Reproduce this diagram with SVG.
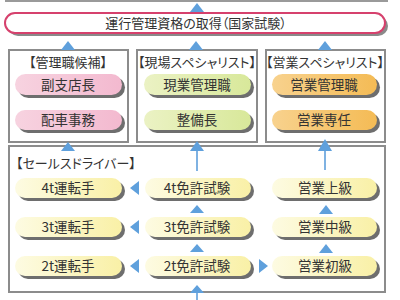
<svg xmlns="http://www.w3.org/2000/svg" width="400" height="300" viewBox="0 0 400 300">
<defs>
<linearGradient id="gy" x1="0" x2="1" y1="0" y2="0"><stop offset="0" stop-color="#fdfbe2"/><stop offset="1" stop-color="#f9f0a6"/></linearGradient>
<linearGradient id="gp" x1="0" x2="1" y1="0" y2="0"><stop offset="0" stop-color="#f7d3e0"/><stop offset="1" stop-color="#f3b9cf"/></linearGradient>
<linearGradient id="gg" x1="0" x2="1" y1="0" y2="0"><stop offset="0" stop-color="#ebf2c4"/><stop offset="1" stop-color="#d8e89a"/></linearGradient>
<linearGradient id="go" x1="0" x2="1" y1="0" y2="0"><stop offset="0" stop-color="#f8d28e"/><stop offset="1" stop-color="#f4bb55"/></linearGradient>
</defs>
<style>
text{font-family:"Noto Sans CJK JP","Noto Sans",sans-serif;fill:#333;text-anchor:middle;font-feature-settings:"palt"}
.t{font-size:13.5px}
.h{font-size:13px}
.box{fill:#fff;stroke:#8c8c8c;stroke-width:2}
.sh{fill:#6e6e6e}
.arr{fill:#5fa0dc}
.ln{stroke:#7fb2e2;stroke-width:2}
</style>
<rect width="400" height="300" fill="#fff"/>
<line x1="5" y1="1" x2="388" y2="1" stroke="#9a9a9a" stroke-width="2"/>

<g id="box-kanri">
<rect class="box" x="9" y="50" width="119" height="92"/>
<text class="h" x="68" y="67">【管理職候補】</text>
</g>
<g id="box-genba">
<rect class="box" x="137" y="50" width="120" height="92"/>
<text class="h" x="197" y="67">【現場スペシャリスト】</text>
</g>
<g id="box-eigyo">
<rect class="box" x="266" y="50" width="119" height="92"/>
<text class="h" x="325" y="67">【営業スペシャリスト】</text>
</g>
<g id="box-sd">
<rect class="box" x="9" y="146" width="376" height="146"/>
<text class="h" x="16" y="168" style="text-anchor:start">【セールスドライバー】</text>
</g>

<g id="connectors">
<polygon class="arr" points="197,3 190,12 204,12"/>
<polygon class="arr" points="68,41 61,50 75,50"/>
<polygon class="arr" points="196,41 189,50 203,50"/>
<polygon class="arr" points="325,41 318,50 332,50"/>
<polygon class="arr" points="68,142 61,151 75,151"/>
<line class="ln" x1="197" y1="150" x2="197" y2="171"/>
<polygon class="arr" points="197,141 190,151 204,151"/>
<line class="ln" x1="325" y1="150" x2="325" y2="170"/>
<polygon class="arr" points="325,139 318,151 332,151"/>
<polygon class="arr" points="130,188 139,181 139,195"/>
<polygon class="arr" points="130,227 139,220 139,234"/>
<polygon class="arr" points="130,266 139,259 139,273"/>
<polygon class="arr" points="268,266 259,259 259,273"/>
<polygon class="arr" points="197,205 190,213 204,213"/>
<polygon class="arr" points="197,244 190,252 204,252"/>
<polygon class="arr" points="326,205 319,214 333,214"/>
<polygon class="arr" points="326,244 319,253 333,253"/>
<line class="ln" x1="197" y1="292" x2="197" y2="300"/>
<polygon class="arr" points="197,285 190,293 204,293"/>
</g>

<g id="title">
<rect x="8" y="16" width="380" height="20" rx="10" fill="#8a8a8a"/>
<rect x="5" y="13" width="380" height="20" rx="10" fill="#fff" stroke="#d6416d" stroke-width="2"/>
<text class="h" x="196" y="27.5">運行管理資格の取得（国家試験）</text>
</g>

<g id="fukushitencho"><rect class="sh" x="18" y="77" width="107" height="21" rx="10.5"/><rect x="15" y="74" width="107" height="21" rx="10.5" fill="url(#gp)"/><text class="t" x="68" y="89.5">副支店長</text></g>
<g id="haisha"><rect class="sh" x="18" y="113" width="107" height="20" rx="10"/><rect x="15" y="110" width="107" height="20" rx="10" fill="url(#gp)"/><text class="t" x="68" y="125">配車事務</text></g>

<g id="genba-kanri"><rect class="sh" x="147" y="77" width="107" height="21" rx="10.5"/><rect x="144" y="74" width="107" height="21" rx="10.5" fill="url(#gg)"/><text class="t" x="197" y="89.5">現業管理職</text></g>
<g id="seibi"><rect class="sh" x="147" y="113" width="107" height="20" rx="10"/><rect x="144" y="110" width="107" height="20" rx="10" fill="url(#gg)"/><text class="t" x="197" y="125">整備長</text></g>

<g id="eigyo-kanri"><rect class="sh" x="275" y="77" width="105" height="21" rx="10.5"/><rect x="272" y="74" width="105" height="21" rx="10.5" fill="url(#go)"/><text class="t" x="324" y="89.5">営業管理職</text></g>
<g id="eigyo-sennin"><rect class="sh" x="275" y="113" width="105" height="20" rx="10"/><rect x="272" y="110" width="105" height="20" rx="10" fill="url(#go)"/><text class="t" x="324" y="125">営業専任</text></g>

<g id="d4"><rect class="sh" x="18" y="181" width="107" height="20" rx="10"/><rect x="15" y="178" width="107" height="20" rx="10" fill="url(#gy)"/><text class="t" x="68" y="193">4t運転手</text></g>
<g id="d3"><rect class="sh" x="18" y="220" width="107" height="20" rx="10"/><rect x="15" y="217" width="107" height="20" rx="10" fill="url(#gy)"/><text class="t" x="68" y="232">3t運転手</text></g>
<g id="d2"><rect class="sh" x="18" y="259" width="107" height="20" rx="10"/><rect x="15" y="256" width="107" height="20" rx="10" fill="url(#gy)"/><text class="t" x="68" y="271">2t運転手</text></g>

<g id="l4"><rect class="sh" x="148" y="181" width="106" height="20" rx="10"/><rect x="145" y="178" width="106" height="20" rx="10" fill="url(#gy)"/><text class="t" x="197" y="193">4t免許試験</text></g>
<g id="l3"><rect class="sh" x="148" y="220" width="106" height="20" rx="10"/><rect x="145" y="217" width="106" height="20" rx="10" fill="url(#gy)"/><text class="t" x="197" y="232">3t免許試験</text></g>
<g id="l2"><rect class="sh" x="148" y="259" width="106" height="20" rx="10"/><rect x="145" y="256" width="106" height="20" rx="10" fill="url(#gy)"/><text class="t" x="197" y="271">2t免許試験</text></g>

<g id="s-jo"><rect class="sh" x="275" y="181" width="105" height="20" rx="10"/><rect x="272" y="178" width="105" height="20" rx="10" fill="url(#gy)"/><text class="t" x="325" y="193">営業上級</text></g>
<g id="s-chu"><rect class="sh" x="275" y="220" width="105" height="20" rx="10"/><rect x="272" y="217" width="105" height="20" rx="10" fill="url(#gy)"/><text class="t" x="325" y="232">営業中級</text></g>
<g id="s-sho"><rect class="sh" x="275" y="259" width="105" height="20" rx="10"/><rect x="272" y="256" width="105" height="20" rx="10" fill="url(#gy)"/><text class="t" x="325" y="271">営業初級</text></g>
</svg>
